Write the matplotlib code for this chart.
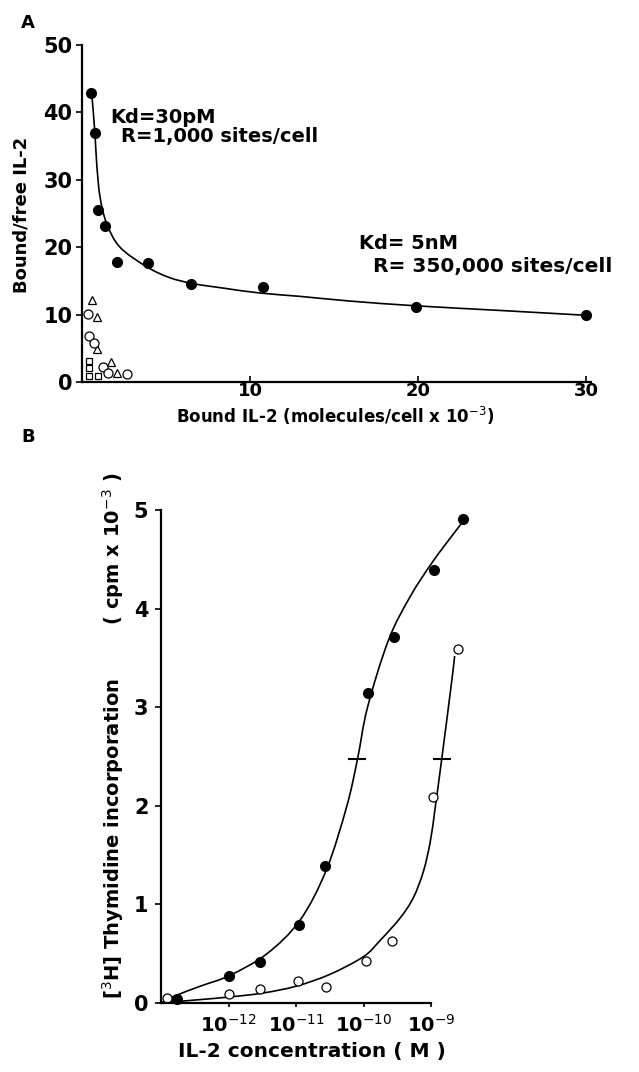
import numpy as np
import matplotlib
matplotlib.use("Agg")
import matplotlib.pyplot as plt
from matplotlib.path import Path
from matplotlib.patches import PathPatch

# ---- panel A: Scatchard plot ----
a_filled_x = [0.54, 0.8, 0.97, 1.37, 2.1, 3.9, 6.5, 10.8, 19.9, 30.0]
a_filled_y = [42.9, 36.9, 25.5, 23.2, 17.8, 17.6, 14.6, 14.1, 11.1, 9.9]
a_tri_x = [0.6, 0.9, 0.9, 1.7, 2.1]
a_tri_y = [12.2, 9.7, 4.9, 3.0, 1.3]
a_circ_x = [0.36, 0.4, 0.7, 1.25, 1.55, 2.7]
a_circ_y = [10.1, 6.8, 5.8, 2.2, 1.3, 1.2]
a_sq_x = [0.4, 0.4, 0.4, 0.95]
a_sq_y = [3.1, 2.1, 0.9, 0.9]
# fitted curve
a_curve_x = [0.58, 0.77, 0.875, 1.07, 1.47, 2.26, 3.85, 5.2, 6.6, 8.5, 10.6, 13.0, 16.0, 19.9, 25.0, 30.0]
a_curve_y = [42.8, 36.9, 32.4, 27.5, 23.5, 20.0, 17.1, 15.5, 14.6, 13.9, 13.2, 12.7, 12.0, 11.3, 10.6, 9.9]

# ---- panel B: proliferation (x as log10 of molar concentration) ----
b_filled_lx = [-12.76, -11.99, -11.53, -10.96, -10.57, -9.93, -9.55, -8.96, -8.53]
b_filled_y = [0.04, 0.27, 0.42, 0.79, 1.39, 3.14, 3.71, 4.39, 4.91]
b_open_lx = [-12.91, -11.99, -11.53, -10.97, -10.55, -9.97, -9.58, -8.97, -8.60]
b_open_y = [0.05, 0.09, 0.14, 0.22, 0.16, 0.43, 0.63, 2.09, 3.59]
b_fcurve_lx = [-13.0, -12.8, -12.42, -11.98, -11.43, -10.94, -10.55, -10.25, -10.09, -9.94, -9.63, -9.31, -8.97, -8.62, -8.54]
b_fcurve_y = [0.0, 0.07, 0.17, 0.28, 0.50, 0.84, 1.35, 1.99, 2.47, 3.00, 3.68, 4.12, 4.48, 4.80, 4.87]
b_ocurve_lx = [-13.0, -12.5, -12.0, -11.5, -11.0, -10.5, -10.0, -9.76, -9.46, -9.26, -9.11, -9.01, -8.94, -8.84, -8.69, -8.65]
b_ocurve_y = [0.0, 0.03, 0.06, 0.10, 0.17, 0.29, 0.47, 0.63, 0.86, 1.07, 1.34, 1.64, 1.97, 2.48, 3.28, 3.52]
b_half_lx = [-10.09, -8.83]
b_half_y = [2.47, 2.47]
b_tick_exp = [-12, -11, -10, -9]

W, H = 639, 1072
fig = plt.figure(figsize=(W / 100, H / 100), dpi=100)
plt.rcParams['font.family'] = ['DejaVu Sans']


def fx(px):
    return px / W


def fy(py):
    return 1 - py / H


def smooth_curve(ax, xs, ys, **kw):
    # Catmull-Rom through the read points, drawn as cubic beziers
    p = np.column_stack([xs, ys]).astype(float)
    verts = [p[0]]
    codes = [Path.MOVETO]
    n = len(p)
    for i in range(n - 1):
        p0 = p[i - 1] if i > 0 else p[i]
        p3 = p[i + 2] if i + 2 < n else p[i + 1]
        c1 = p[i] + (p[i + 1] - p0) / 6.0
        c2 = p[i + 1] - (p3 - p[i]) / 6.0
        verts += [c1, c2, p[i + 1]]
        codes += [Path.CURVE4] * 3
    ax.add_patch(PathPatch(Path(verts, codes), fill=False, **kw))


# panel A
axa = fig.add_axes([fx(82), fy(382), fx(591 - 82), (382 - 45) / H])
smooth_curve(axa, a_curve_x, a_curve_y, color='k', lw=1.2)
axa.plot(a_filled_x, a_filled_y, 'o', color='k', ms=7, clip_on=False)
axa.plot(a_tri_x, a_tri_y, '^', mfc='white', mec='k', mew=0.9, ms=6, clip_on=False)
axa.plot(a_circ_x, a_circ_y, 'o', mfc='white', mec='k', mew=0.9, ms=6.5, clip_on=False)
axa.plot(a_sq_x, a_sq_y, 's', mfc='white', mec='k', mew=0.9, ms=5, clip_on=False)
axa.set_xlim(0, 30.3)
axa.set_ylim(0, 50)
axa.set_xticks([10, 20, 30])
axa.set_yticks([0, 10, 20, 30, 40, 50])
axa.spines[['top', 'right']].set_visible(False)
axa.spines[['left', 'bottom']].set_linewidth(1.6)
axa.tick_params(axis='y', direction='out', length=4, width=1.2, pad=3, labelsize=15)
axa.tick_params(axis='x', direction='in', length=4, width=1.2, pad=0, labelsize=13)
for lab in axa.get_xticklabels() + axa.get_yticklabels():
    lab.set_fontweight('bold')
axa.text(1.67, 39.2, 'Kd=30pM', fontsize=14, fontweight='bold', va='center')
axa.text(2.3, 36.4, 'R=1,000 sites/cell', fontsize=14, fontweight='bold', va='center')
axa.text(16.5, 20.6, 'Kd= 5nM', fontsize=14, fontweight='bold', va='center')
axa.text(17.3, 17.1, 'R= 350,000 sites/cell', fontsize=14.5, fontweight='bold', va='center')
fig.text(fx(335), fy(416), 'Bound IL-2 (molecules/cell x 10$^{-3}$)', ha='center', va='center',
         fontsize=12, fontweight='bold')
fig.text(fx(22), fy(215), 'Bound/free IL-2', rotation=90, ha='center', va='center',
         fontsize=13, fontweight='bold')
fig.text(fx(28), fy(23), 'A', ha='center', va='center', fontsize=13, fontweight='bold')

# panel B
axb = fig.add_axes([fx(161), fy(1003), fx(471.5 - 161), (1003 - 510) / H])
smooth_curve(axb, b_fcurve_lx, b_fcurve_y, color='k', lw=1.2, clip_on=False)
smooth_curve(axb, b_ocurve_lx, b_ocurve_y, color='k', lw=1.2, clip_on=False)
axb.plot(b_filled_lx, b_filled_y, 'o', color='k', ms=7, clip_on=False)
axb.plot(b_open_lx, b_open_y, 'o', mfc='white', mec='k', mew=0.9, ms=6.5, clip_on=False)
axb.plot(b_half_lx, b_half_y, '_', color='k', ms=13, mew=1.5, clip_on=False)
axb.set_xlim(-13, -8.4)
axb.set_ylim(0, 5)
axb.set_xticks(b_tick_exp)
axb.set_xticklabels(['10$^{%d}$' % e for e in b_tick_exp])
axb.set_yticks([0, 1, 2, 3, 4, 5])
axb.spines[['top', 'right']].set_visible(False)
axb.spines[['left', 'bottom']].set_linewidth(1.6)
axb.spines['bottom'].set_bounds(-13, -9)
axb.tick_params(axis='y', direction='out', length=4, width=1.2, pad=5, labelsize=15)
axb.tick_params(axis='x', direction='out', length=3, width=1.2, pad=5, labelsize=14)
for lab in axb.get_xticklabels() + axb.get_yticklabels():
    lab.set_fontweight('bold')
fig.text(fx(113), fy(736), '[$^{3}$H] Thymidine incorporation        ( cpm x 10$^{-3}$ )',
         rotation=90, ha='center', va='center', fontsize=14, fontweight='bold')
fig.text(fx(312), fy(1052), 'IL-2 concentration ( M )', ha='center', va='center',
         fontsize=14.5, fontweight='bold')
fig.text(fx(28), fy(437), 'B', ha='center', va='center', fontsize=13, fontweight='bold')

fig.savefig('out.png', dpi=100)
